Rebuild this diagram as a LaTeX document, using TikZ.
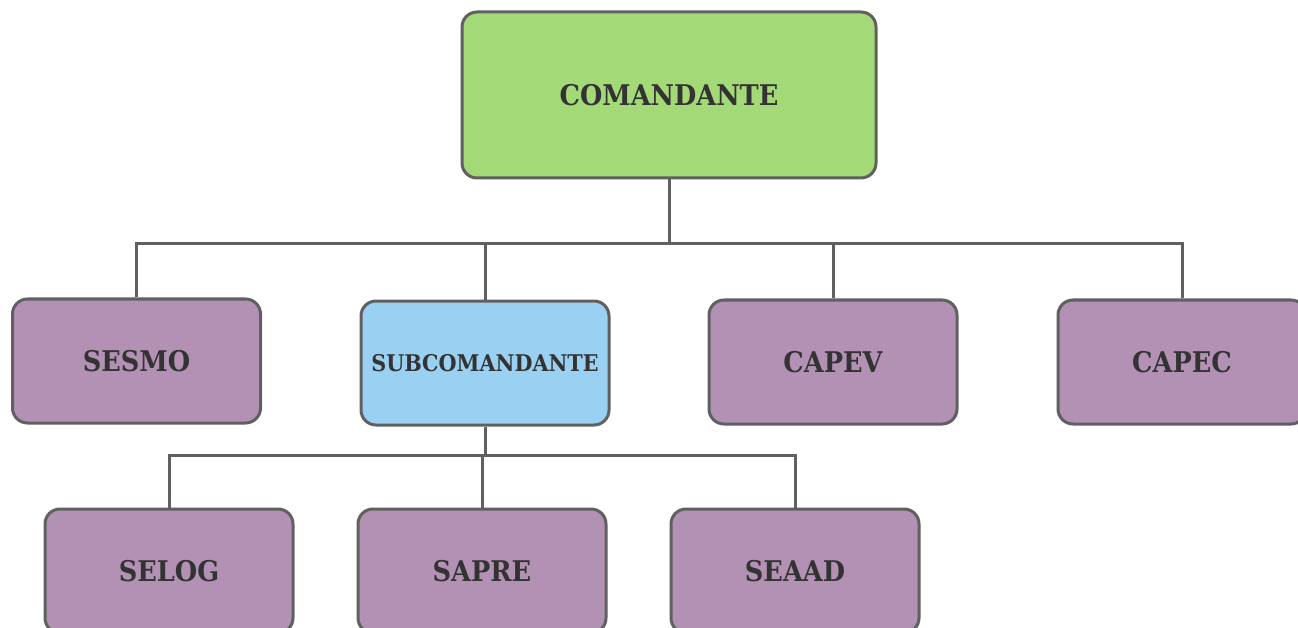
\documentclass[tikz,border=0pt]{standalone}
\usepackage{fontspec}
\setmainfont{DejaVu Serif}[FakeStretch=0.9]
\definecolor{boxgreen}{HTML}{A3D977}
\definecolor{boxpurple}{HTML}{B391B5}
\definecolor{boxblue}{HTML}{9AD1F2}
\definecolor{edgegray}{HTML}{606060}
\definecolor{txt}{HTML}{333333}
\tikzset{
  unit/.style={draw=edgegray, line width=3pt, rounded corners=15pt, inner sep=0pt,
    minimum width=248pt, minimum height=124pt, text=txt, font=\bfseries\fontsize{28.5}{32}\selectfont},
  purple/.style={unit, fill=boxpurple},
  link/.style={draw=edgegray, line width=3pt}
}
\begin{document}
\begin{tikzpicture}[x=1pt,y=-1pt]
\useasboundingbox (0,0) rectangle (1298,628);
\clip (0,0) rectangle (1298,628);
\fill[white] (0,0) rectangle (1298,628);
\node[unit, fill=boxgreen, minimum width=414pt, minimum height=166pt] (cmd) at (669,95) {COMANDANTE};
\node[purple] (sesmo) at (136.5,361) {SESMO};
\node[unit, fill=boxblue, font=\bfseries\fontsize{23}{27}\selectfont] (sub) at (485,363) {SUBCOMANDANTE};
\node[purple] (capev) at (833,362) {CAPEV};
\node[purple] (capec) at (1182,362) {CAPEC};
\node[purple] (selog) at (169,571) {SELOG};
\node[purple] (sapre) at (482,571) {SAPRE};
\node[purple] (seaad) at (795,571) {SEAAD};
\coordinate (bus1) at (669,244);
\coordinate (bus2) at (485,455);
\draw[link] (cmd.south) -- (bus1);
\draw[link] (sesmo.north) |- (bus1);
\draw[link] (capec.north) |- (bus1);
\draw[link] (sub.north) -- (sub.north |- bus1);
\draw[link] (capev.north) -- (capev.north |- bus1);
\draw[link] (sub.south) -- (bus2);
\draw[link] (selog.north) |- (bus2);
\draw[link] (seaad.north) |- (bus2);
\draw[link] (sapre.north) -- (sapre.north |- bus2);
\end{tikzpicture}
\end{document}
